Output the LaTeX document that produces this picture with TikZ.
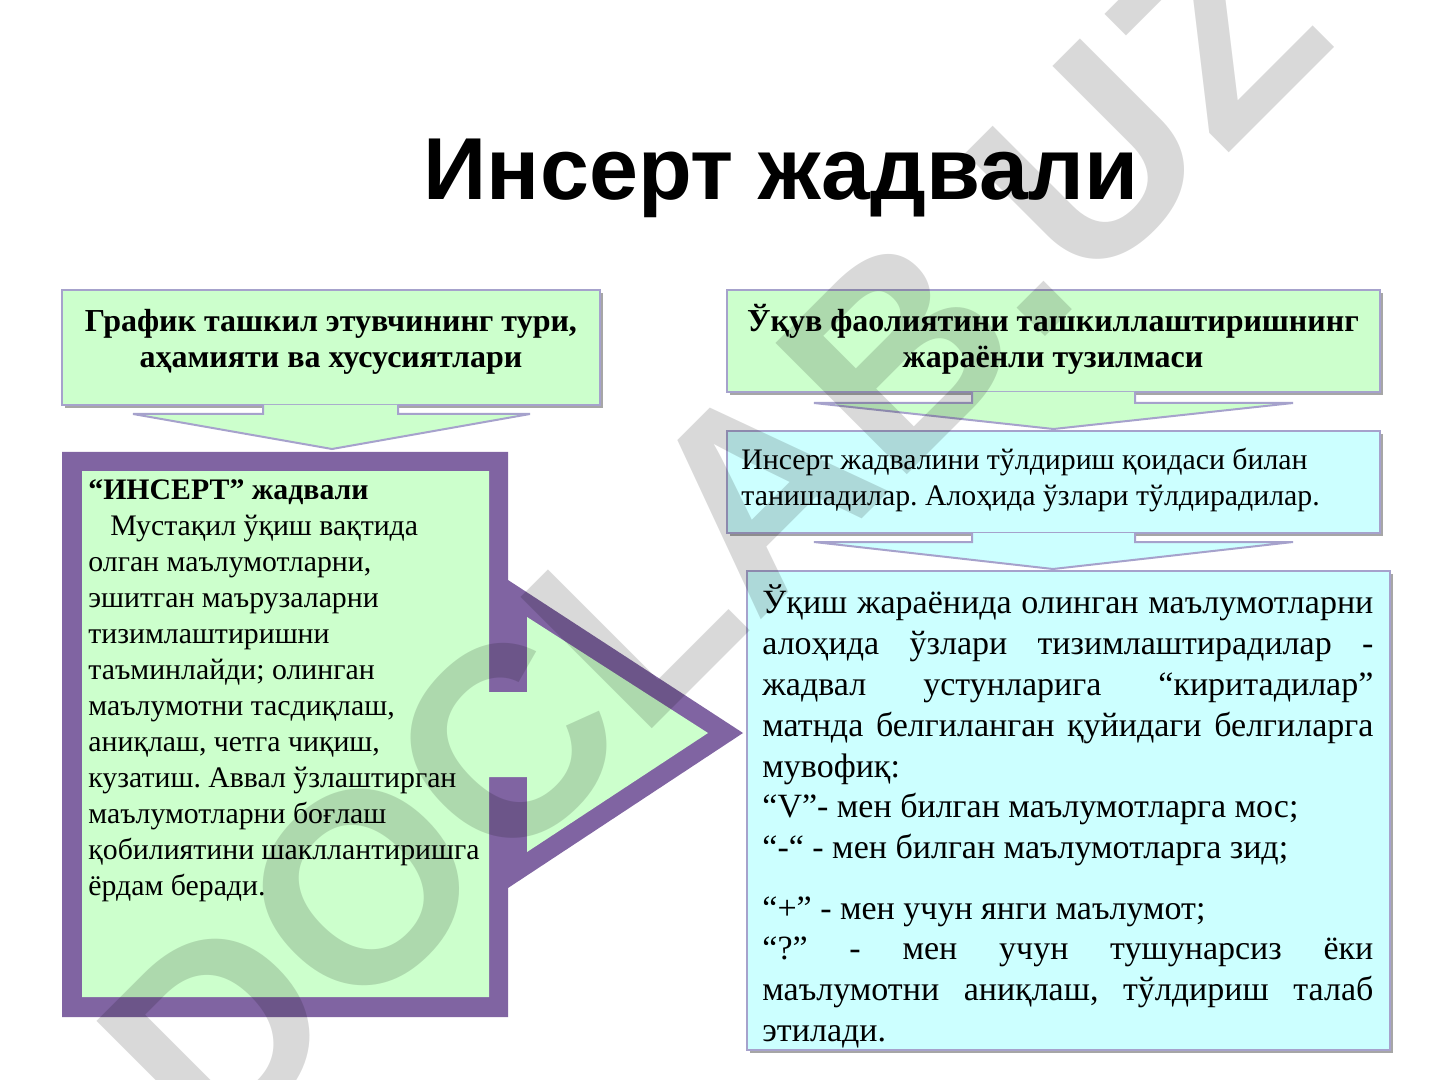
\documentclass[tikz,border=0pt]{standalone}
\usepackage{fontspec}
\setmainfont{Liberation Serif}
\newfontfamily\titlefont{Liberation Sans}
\usetikzlibrary{calc,shadows}
\definecolor{boxgreen}{HTML}{CCFFCC}
\definecolor{boxcyan}{HTML}{CCFFFF}
\definecolor{framepurple}{HTML}{8064A2}
\definecolor{edgelav}{HTML}{A6A2CC}
\frenchspacing
\begin{document}
\begin{tikzpicture}[x=0.5pt,y=-0.5pt,
  box/.style={rectangle, draw=edgelav, line width=1pt, inner sep=0pt,
    drop shadow={shadow xshift=1.5pt, shadow yshift=-1.5pt, fill=black, opacity=0.35}},
  blockarrow/.style={draw=edgelav, line width=1pt, line join=miter},
  ln/.style={anchor=base west, inner sep=0pt},
  lnc/.style={anchor=base, inner sep=0pt},
  headfont/.style={font=\bfseries\fontsize{16}{18}\selectfont},
  leftfont/.style={font=\fontsize{14.9}{18}\selectfont},
  smallfont/.style={font=\fontsize{14.9}{18}\selectfont},
  bigfont/.style={font=\fontsize{17}{20}\selectfont},
]
\useasboundingbox (0,0) rectangle (1440,1080);
\fill[white] (0,0) rectangle (1440,1080);

% title
\node[lnc, font=\titlefont\bfseries\fontsize{44}{50}\selectfont] (title) at (781,200) {Инсерт жадвали};

% box positions
\coordinate (b1c) at (331,347.5);
\coordinate (b2c) at (1053.5,341);
\coordinate (b4c) at (1053.5,482);
\coordinate (b5c) at (1068.5,810.5);

\node[box, fill=boxgreen, minimum width=269pt, minimum height=57.5pt] (b1) at (b1c) {};
\node[box, fill=boxgreen, minimum width=326.5pt, minimum height=51pt] (b2) at (b2c) {};
\node[box, fill=boxcyan, minimum width=326.5pt, minimum height=51pt] (b4) at (b4c) {};
\node[box, fill=boxcyan, minimum width=321.5pt, minimum height=239.5pt] (b5) at (b5c) {};

% arrow from b1 down to left frame
\draw[blockarrow, fill=boxgreen]
  ($(b1.south)+(-68,-1)$) -- ($(b1.south)+(-68,8)$) -- ($(b1.south)+(-198,8)$)
  -- ($(b1.south)+(1,43)$) -- ($(b1.south)+(199,8)$) -- ($(b1.south)+(67,8)$)
  -- ($(b1.south)+(67,-1)$);
% arrow from b2 to b4
\draw[blockarrow, fill=boxgreen]
  ($(b2.south)+(-81.5,-1)$) -- ($(b2.south)+(-81.5,10)$) -- ($(b2.south)+(-239.5,10)$)
  -- ($(b4.north)+(0,-1)$) -- ($(b2.south)+(239.5,10)$) -- ($(b2.south)+(81.5,10)$)
  -- ($(b2.south)+(81.5,-1)$);
% arrow from b4 to b5
\draw[blockarrow, fill=boxcyan]
  ($(b4.south)+(-81.5,-1)$) -- ($(b4.south)+(-81.5,8)$) -- ($(b4.south)+(-239.5,8)$)
  -- ($(b5.north)+(-15.5,-1)$) -- ($(b4.south)+(239.5,8)$) -- ($(b4.south)+(81.5,8)$)
  -- ($(b4.south)+(81.5,-1)$);

% left framed callout
\fill[framepurple] (62,452) -- (508,452) -- (508,580) -- (743,733) -- (508,888)
  -- (508,1017) -- (62,1017) -- cycle;
\fill[boxgreen] (82,471) -- (489,471) -- (489,692) -- (527,692) -- (527,617)
  -- (708,733) -- (527,852) -- (527,777) -- (489,777) -- (489,997) -- (82,997) -- cycle;

% header texts
\node[lnc, headfont] (h1a) at (331,332) {График ташкил этувчининг тури,};
\node[lnc, headfont] (h1b) at (331,368) {аҳамияти ва хусусиятлари};
\node[lnc, headfont] (h2a) at (1053,332) {Ўқув фаолиятини ташкиллаштиришнинг};
\node[lnc, headfont] (h2b) at (1053,368) {жараёнли тузилмаси};

% small cyan box text
\node[ln, smallfont] (s1) at (741,469) {Инсерт жадвалини тўлдириш қоидаси билан};
\node[ln, smallfont] (s2) at (741,505) {танишадилар. Алоҳида ўзлари тўлдирадилар.};

% left box text
\node[ln, font=\bfseries\fontsize{14.9}{18}\selectfont] (l1) at (88,499) {“ИНСЕРТ” жадвали};
\node[ln, leftfont] (l2) at (110,535) {Мустақил ўқиш вақтида};
\node[ln, leftfont] (l3) at (88,571) {олган маълумотларни,};
\node[ln, leftfont] (l4) at (88,607) {эшитган маърузаларни};
\node[ln, leftfont] (l5) at (88,643) {тизимлаштиришни};
\node[ln, leftfont] (l6) at (88,679) {таъминлайди; олинган};
\node[ln, leftfont] (l7) at (88,715) {маълумотни тасдиқлаш,};
\node[ln, leftfont] (l8) at (88,751) {аниқлаш, четга чиқиш,};
\node[ln, leftfont] (l9) at (88,787) {кузатиш. Аввал ўзлаштирган};
\node[ln, leftfont] (l10) at (88,823) {маълумотларни боғлаш};
\node[ln, leftfont] (l11) at (88,859) {қобилиятини шакллантиришга};
\node[ln, leftfont] (l12) at (88,895) {ёрдам беради.};

% big cyan box text
\newcommand\jl[1]{\makebox[305.5pt][s]{#1}}
\node[ln, bigfont] (r1) at (762,613) {\jl{Ўқиш жараёнида олинган маълумотларни}};
\node[ln, bigfont] (r2) at (762,654) {\jl{алоҳида ўзлари тизимлаштирадилар -}};
\node[ln, bigfont] (r3) at (762,695) {\jl{жадвал устунларига “киритадилар”}};
\node[ln, bigfont] (r4) at (762,736) {\jl{матнда белгиланган қуйидаги белгиларга}};
\node[ln, bigfont] (r5) at (762,777) {мувофиқ:};
\node[ln, bigfont] (r6) at (762,817) {“V”- мен билган маълумотларга мос;};
\node[ln, bigfont] (r7) at (762,858) {“-“ - мен билган маълумотларга зид;};
\node[ln, bigfont] (r8) at (762,919) {“+” - мен учун янги маълумот;};
\node[ln, bigfont] (r9) at (762,959) {\jl{“?” - мен учун тушунарсиз ёки}};
\node[ln, bigfont] (r10) at (762,1000) {\jl{маълумотни аниқлаш, тўлдириш талаб}};
\node[ln, bigfont] (r11) at (762,1041) {этилади.};

% watermark
\node[rotate=45, inner sep=0pt, text=black, opacity=0.15, text opacity=0.15,
  font=\titlefont\bfseries\fontsize{135}{150}\selectfont] (wm) at (712,538) {DOCLAB.UZ};
\end{tikzpicture}
\end{document}
